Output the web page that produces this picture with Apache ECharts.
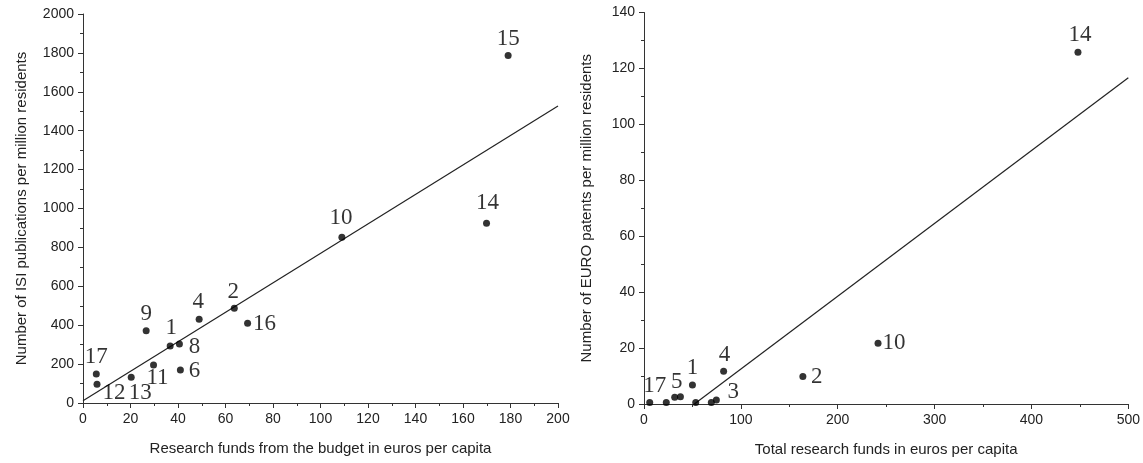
<!DOCTYPE html>
<html>
<head>
<meta charset="utf-8">
<script src="https://cdn.jsdelivr.net/npm/echarts@6/dist/echarts.min.js"></script>
<style>
  html, body { margin: 0; padding: 0; background: #fff; }
  #chart { width: 1143px; height: 463px; }
</style>
</head>
<body>
<div id="chart"></div>
<script>
// left panel: ISI publications vs budget research funds
const leftIds = ['17', '12', '13', '11', '9', '1', '8', '6', '4', '2', '16', '10', '14', '15']
const leftX = [5.6, 5.9, 20.3, 29.7, 26.6, 36.7, 40.6, 41, 48.9, 63.7, 69.3, 109, 169.9, 179]
const leftY = [149, 96, 132, 195, 372, 293, 303, 170, 430, 487, 410, 852, 924, 1786]
const leftFitX = [0, 200]
const leftFitY = [12, 1527]

// right panel: EURO patents vs total research funds
const rightIds = ['17', '', '5', '', '1', '', '', '3', '4', '2', '10', '14']
const rightX = [5.9, 23, 31.7, 37.6, 50, 53.4, 69.5, 74.7, 82.2, 164, 241.6, 448]
const rightY = [0.5, 0.5, 2.4, 2.6, 6.8, 0.5, 0.5, 1.4, 11.7, 9.8, 21.7, 125.8]
const rightFitX = [52, 500]
const rightFitY = [0, 116.7]

// where each number sits relative to its dot (px)
const leftLabelOffset = {
  '17': [0, -17], '12': [17, 9], '13': [9, 16], '11': [4, 13], '9': [0, -17],
  '1': [1, -18], '8': [15, 3], '6': [14, 1], '4': [-1, -17], '2': [-1, -16],
  '16': [17, 1], '10': [-1, -19], '14': [1, -20], '15': [0, -17]
}
const rightLabelOffset = {
  '17': [5, -17], '5': [2, -15], '1': [0, -17], '3': [17, -8], '4': [1, -16],
  '2': [14, 0], '10': [16, 0], '14': [2, -17]
}

function points (xs, ys, ids, offsets) {
  return xs.map((x, i) => {
    const item = { value: [x, ys[i]] }
    if (ids[i]) {
      item.label = {
        show: true,
        formatter: ids[i],
        position: 'inside',
        offset: offsets[ids[i]]
      }
    }
    return item
  })
}

function fitLine (xs, ys) {
  return xs.map((x, i) => [x, ys[i]])
}

const axisColor = '#333'
const tickFont = { color: '#222', fontSize: 14, fontFamily: 'Liberation Sans, Arial, sans-serif' }
const nameFont = { color: '#222', fontSize: 15, fontFamily: 'Liberation Sans, Arial, sans-serif' }

function valueAxis (opts) {
  return Object.assign({
    type: 'value',
    axisLine: { show: true, onZero: false, lineStyle: { color: axisColor, width: 1 } },
    axisTick: { show: true, inside: false, length: 5, lineStyle: { color: axisColor } },
    minorTick: { show: true, splitNumber: 2, length: 3, lineStyle: { color: axisColor } },
    splitLine: { show: false },
    axisLabel: Object.assign({ margin: 9, formatter: v => String(v) }, tickFont),
    nameLocation: 'middle',
    nameTextStyle: nameFont
  }, opts)
}

const chart = echarts.init(document.getElementById('chart'))

const scatterStyle = {
  type: 'scatter',
  symbol: 'circle',
  symbolSize: 7,
  itemStyle: { color: '#000' },
  label: {
    color: '#000',
    fontSize: 23,
    fontFamily: 'Liberation Serif, Times New Roman, serif',
    align: 'center',
    verticalAlign: 'middle'
  },
  emphasis: { disabled: true },
  z: 3
}

const lineStyle = {
  type: 'line',
  symbol: 'none',
  lineStyle: { color: '#222', width: 1.2 },
  emphasis: { disabled: true },
  z: 2
}

chart.setOption({
  animation: false,
  grid: [
    { left: 83, top: 14, width: 475, height: 389 },
    { left: 644, top: 12.5, width: 485, height: 391.5 }
  ],
  xAxis: [
    valueAxis({
      gridIndex: 0, min: 0, max: 200, interval: 20,
      name: 'Research funds from the budget in euros per capita', nameGap: 38
    }),
    valueAxis({
      gridIndex: 1, min: 0, max: 500, interval: 100,
      name: 'Total research funds in euros per capita', nameGap: 38
    })
  ],
  yAxis: [
    valueAxis({
      gridIndex: 0, min: 0, max: 2000, interval: 200,
      name: 'Number of ISI publications per million residents', nameGap: 54
    }),
    valueAxis({
      gridIndex: 1, min: 0, max: 140, interval: 20,
      name: 'Number of EURO patents per million residents', nameGap: 50
    })
  ],
  series: [
    Object.assign({}, lineStyle, { xAxisIndex: 0, yAxisIndex: 0, data: fitLine(leftFitX, leftFitY) }),
    Object.assign({}, scatterStyle, { xAxisIndex: 0, yAxisIndex: 0, data: points(leftX, leftY, leftIds, leftLabelOffset) }),
    Object.assign({}, lineStyle, { xAxisIndex: 1, yAxisIndex: 1, data: fitLine(rightFitX, rightFitY) }),
    Object.assign({}, scatterStyle, { xAxisIndex: 1, yAxisIndex: 1, data: points(rightX, rightY, rightIds, rightLabelOffset) })
  ]
})
</script>
</body>
</html>
